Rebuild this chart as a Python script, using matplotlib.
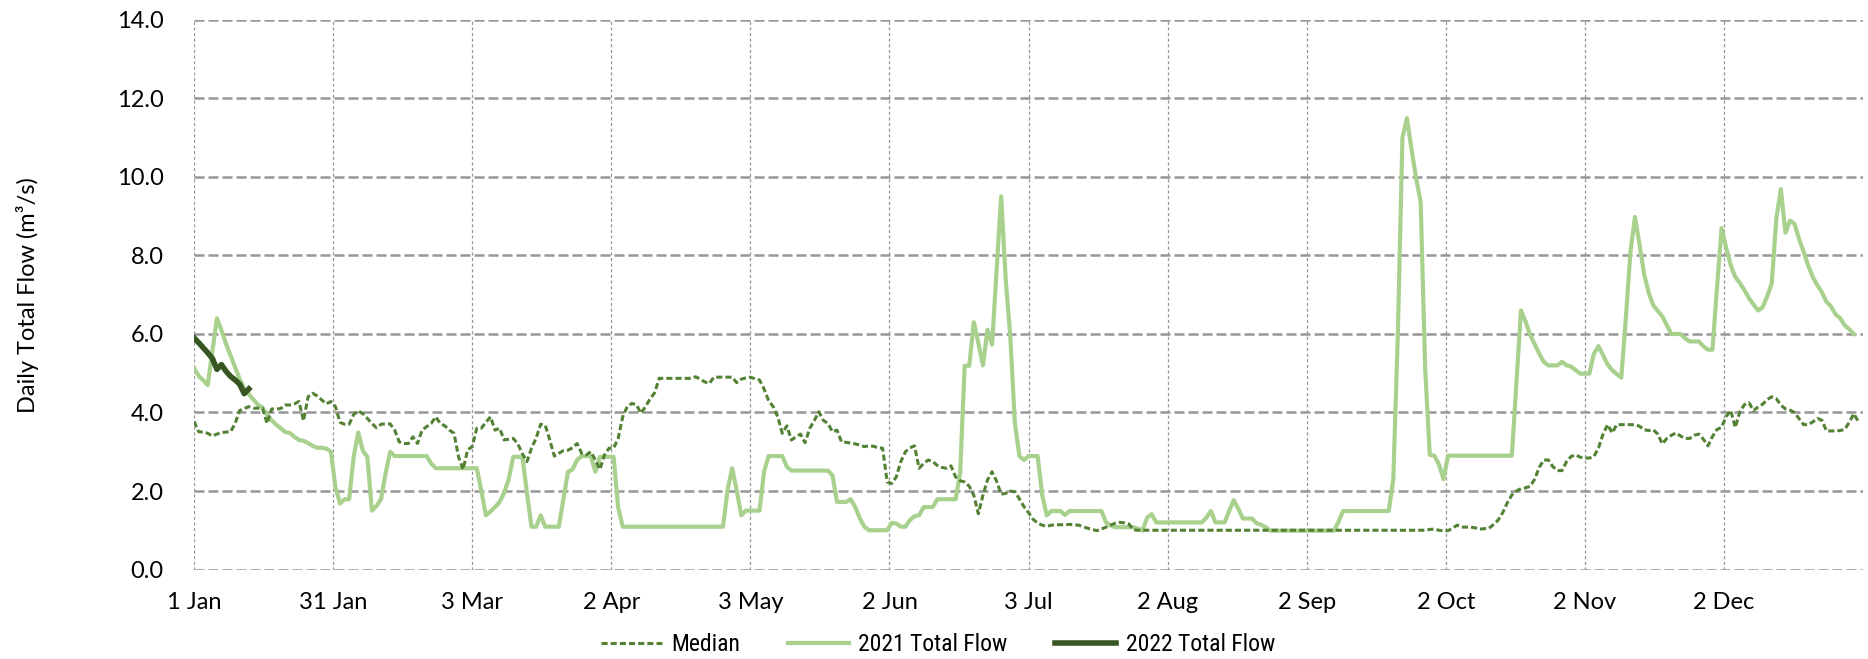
import numpy as np
import matplotlib
matplotlib.use("Agg")
import matplotlib.pyplot as plt
from matplotlib import font_manager

# ---------------- data ----------------
tick_labels = ["1 Jan", "31 Jan", "3 Mar", "2 Apr", "3 May", "2 Jun",
               "3 Jul", "2 Aug", "2 Sep", "2 Oct", "2 Nov", "2 Dec"]

median_flow = [
    3.77, 3.51, 3.50, 3.47, 3.40, 3.45, 3.49, 3.50, 3.51, 3.72,
    4.05, 4.10, 4.15, 4.11, 4.11, 4.11, 3.72, 4.09, 4.09, 4.10,
    4.19, 4.19, 4.22, 4.28, 3.79, 4.40, 4.49, 4.42, 4.32, 4.22,
    4.28, 4.15, 3.75, 3.70, 3.70, 3.95, 4.04, 3.97, 3.85, 3.72,
    3.61, 3.70, 3.71, 3.71, 3.55, 3.25, 3.21, 3.21, 3.38, 3.21,
    3.55, 3.64, 3.72, 3.89, 3.72, 3.66, 3.55, 3.47, 2.87, 2.55,
    3.05, 3.13, 3.60, 3.60, 3.75, 3.89, 3.55, 3.60, 3.30, 3.32,
    3.34, 3.20, 2.95, 2.75, 3.09, 3.34, 3.70, 3.68, 3.30, 2.89,
    2.96, 3.03, 3.04, 3.10, 3.21, 2.96, 2.92, 3.00, 2.79, 2.55,
    2.92, 3.09, 3.09, 3.34, 3.89, 4.15, 4.23, 4.20, 3.98, 4.15,
    4.35, 4.50, 4.87, 4.87, 4.87, 4.87, 4.87, 4.87, 4.87, 4.87,
    4.91, 4.85, 4.78, 4.74, 4.90, 4.90, 4.90, 4.90, 4.90, 4.76,
    4.85, 4.88, 4.90, 4.86, 4.83, 4.60, 4.30, 4.15, 3.89, 3.47,
    3.66, 3.30, 3.38, 3.45, 3.23, 3.59, 3.79, 4.02, 3.80, 3.72,
    3.51, 3.55, 3.25, 3.24, 3.22, 3.20, 3.17, 3.13, 3.15, 3.14,
    3.10, 3.09, 2.23, 2.19, 2.36, 2.75, 3.00, 3.10, 3.15, 2.58,
    2.70, 2.79, 2.75, 2.65, 2.60, 2.58, 2.64, 2.36, 2.26, 2.23,
    2.12, 1.89, 1.42, 1.89, 2.28, 2.49, 2.25, 1.92, 1.94, 2.00,
    1.98, 1.80, 1.60, 1.45, 1.28, 1.18, 1.13, 1.10, 1.13, 1.14,
    1.14, 1.14, 1.15, 1.14, 1.13, 1.09, 1.05, 1.02, 0.99, 1.03,
    1.08, 1.13, 1.18, 1.20, 1.19, 1.16, 1.01, 1.00, 1.00, 1.00,
    1.00, 1.00, 1.00, 1.00, 1.00, 1.00, 1.00, 1.00, 1.00, 1.00,
    1.00, 1.00, 1.00, 1.00, 1.00, 1.00, 1.00, 1.00, 1.00, 1.00,
    1.00, 1.00, 1.00, 1.00, 1.00, 1.00, 1.00, 1.00, 1.00, 1.00,
    1.00, 1.00, 1.00, 1.00, 1.00, 1.00, 1.00, 1.00, 1.00, 1.00,
    1.00, 1.00, 1.00, 1.00, 1.00, 1.00, 1.00, 1.00, 1.00, 1.00,
    1.00, 1.00, 1.00, 1.00, 1.00, 1.00, 1.00, 1.00, 1.00, 1.00,
    1.00, 1.02, 1.03, 1.00, 0.99, 0.99, 1.05, 1.13, 1.08, 1.08,
    1.08, 1.06, 1.03, 1.04, 1.05, 1.15, 1.26, 1.45, 1.70, 1.90,
    2.00, 2.06, 2.08, 2.12, 2.30, 2.60, 2.79, 2.79, 2.62, 2.52,
    2.52, 2.75, 2.88, 2.92, 2.86, 2.84, 2.84, 2.88, 3.10, 3.45,
    3.69, 3.48, 3.69, 3.69, 3.69, 3.69, 3.69, 3.65, 3.56, 3.54,
    3.56, 3.45, 3.20, 3.34, 3.42, 3.48, 3.40, 3.34, 3.34, 3.42,
    3.45, 3.32, 3.15, 3.39, 3.57, 3.62, 3.90, 4.05, 3.62, 4.02,
    4.20, 4.25, 4.05, 4.14, 4.21, 4.33, 4.40, 4.35, 4.19, 4.09,
    4.06, 4.00, 3.84, 3.69, 3.69, 3.76, 3.85, 3.80, 3.53, 3.53,
    3.53, 3.54, 3.57, 3.75, 3.97, 3.76,
]

flow_2021 = [
    5.13, 4.93, 4.82, 4.70, 5.55, 6.40, 6.10, 5.75, 5.45, 5.15,
    4.85, 4.62, 4.47, 4.33, 4.20, 4.12, 3.95, 3.80, 3.69, 3.60,
    3.50, 3.48, 3.38, 3.30, 3.28, 3.22, 3.15, 3.10, 3.10, 3.08,
    3.00, 2.10, 1.68, 1.79, 1.79, 2.87, 3.49, 3.03, 2.87, 1.50,
    1.62, 1.79, 2.45, 3.00, 2.89, 2.89, 2.89, 2.89, 2.89, 2.89,
    2.89, 2.89, 2.70, 2.58, 2.58, 2.58, 2.58, 2.58, 2.58, 2.58,
    2.58, 2.58, 2.58, 2.00, 1.38, 1.48, 1.59, 1.72, 1.95, 2.30,
    2.87, 2.87, 2.87, 1.95, 1.09, 1.09, 1.38, 1.09, 1.09, 1.09,
    1.09, 1.80, 2.49, 2.55, 2.79, 2.89, 2.89, 2.89, 2.49, 2.87,
    2.87, 2.87, 2.87, 1.59, 1.09, 1.09, 1.09, 1.09, 1.09, 1.09,
    1.09, 1.09, 1.09, 1.09, 1.09, 1.09, 1.09, 1.09, 1.09, 1.09,
    1.09, 1.09, 1.09, 1.09, 1.09, 1.09, 1.09, 2.02, 2.58, 2.02,
    1.38, 1.50, 1.50, 1.50, 1.50, 2.49, 2.89, 2.89, 2.89, 2.89,
    2.62, 2.52, 2.52, 2.52, 2.52, 2.52, 2.52, 2.52, 2.52, 2.52,
    2.40, 1.72, 1.72, 1.72, 1.79, 1.59, 1.30, 1.09, 1.00, 1.00,
    1.00, 1.00, 1.00, 1.19, 1.17, 1.09, 1.09, 1.26, 1.36, 1.38,
    1.59, 1.59, 1.59, 1.79, 1.79, 1.79, 1.79, 1.79, 2.45, 5.19,
    5.19, 6.30, 5.77, 5.20, 6.11, 5.73, 7.60, 9.51, 7.38, 5.94,
    3.74, 2.89, 2.79, 2.89, 2.89, 2.89, 1.90, 1.38, 1.49, 1.49,
    1.49, 1.39, 1.49, 1.49, 1.49, 1.49, 1.49, 1.49, 1.49, 1.49,
    1.20, 1.12, 1.08, 1.08, 1.08, 1.08, 1.08, 1.04, 0.99, 1.32,
    1.41, 1.20, 1.20, 1.20, 1.20, 1.20, 1.20, 1.20, 1.20, 1.20,
    1.20, 1.20, 1.32, 1.49, 1.20, 1.20, 1.20, 1.49, 1.77, 1.55,
    1.30, 1.30, 1.30, 1.18, 1.14, 1.08, 0.99, 0.99, 0.99, 0.99,
    0.99, 0.99, 0.99, 0.99, 0.99, 0.99, 0.99, 0.99, 0.99, 0.99,
    0.99, 1.22, 1.49, 1.49, 1.49, 1.49, 1.49, 1.49, 1.49, 1.49,
    1.49, 1.49, 1.49, 2.30, 6.03, 11.00, 11.50, 10.70, 9.97, 9.36,
    5.08, 2.92, 2.90, 2.68, 2.30, 2.90, 2.90, 2.90, 2.90, 2.90,
    2.90, 2.90, 2.90, 2.90, 2.90, 2.90, 2.90, 2.90, 2.90, 2.90,
    4.75, 6.60, 6.32, 5.98, 5.74, 5.50, 5.29, 5.20, 5.20, 5.20,
    5.29, 5.20, 5.17, 5.08, 4.99, 4.99, 4.99, 5.50, 5.69, 5.46,
    5.22, 5.08, 4.98, 4.89, 6.40, 8.09, 8.98, 8.28, 7.53, 7.06,
    6.73, 6.59, 6.45, 6.22, 6.00, 6.00, 6.00, 5.89, 5.81, 5.81,
    5.81, 5.69, 5.60, 5.60, 7.20, 8.70, 8.20, 7.75, 7.45, 7.30,
    7.12, 6.91, 6.75, 6.60, 6.68, 6.96, 7.29, 8.94, 9.69, 8.58,
    8.89, 8.80, 8.42, 8.09, 7.74, 7.45, 7.24, 7.06, 6.82, 6.70,
    6.50, 6.40, 6.22, 6.12, 6.00,
]

flow_2022 = [5.90, 5.78, 5.65, 5.52, 5.38, 5.10, 5.22, 5.05, 4.92, 4.83,
             4.72, 4.48, 4.60]

# ---------------- style ----------------
def pick(names):
    avail = {f.name for f in font_manager.fontManager.ttflist}
    for n in names:
        if n in avail:
            return n
    return "DejaVu Sans"

tick_font = pick(["Lato", "Open Sans", "DejaVu Sans"])
legend_font = pick(["Liberation Sans Narrow", "Roboto Condensed", "Liberation Sans"])

c_median = "#548235"
c_2021 = "#A9D18E"
c_2022 = "#375623"
c_grid = "#979797"

fig = plt.figure(figsize=(18.68, 6.59), dpi=100)
ax = fig.add_axes([0.1039, 0.1358, 0.8934, 0.8339])

x_med = np.arange(len(median_flow))
x_21 = np.arange(len(flow_2021))
x_22 = np.arange(len(flow_2022))

l1, = ax.plot(x_med, median_flow, color=c_median, lw=2.2, dashes=(2.0, 1.0),
              label="Median", zorder=3)
l2, = ax.plot(x_21, flow_2021, color=c_2021, lw=3.0, label="2021 Total Flow",
              zorder=2, solid_joinstyle="round")
l3, = ax.plot(x_22, flow_2022, color=c_2022, lw=4.0, label="2022 Total Flow",
              zorder=4, solid_joinstyle="round")

ax.set_xlim(0, 366)
ax.set_ylim(0, 14)
ax.set_xticks(np.arange(12) * 30.5)
ax.set_xticklabels(tick_labels)
ax.set_yticks(np.arange(0, 15, 2))
ax.set_yticklabels([f"{v:.1f}" for v in np.arange(0, 15, 2)])

for s in ax.spines.values():
    s.set_visible(False)

ax.tick_params(axis="both", length=0, labelsize=17, colors="black")
ax.tick_params(axis="y", pad=22)
ax.tick_params(axis="x", pad=16)
for lab in ax.get_xticklabels() + ax.get_yticklabels():
    lab.set_fontfamily(tick_font)

for yv in np.arange(0, 15, 2):
    ax.axhline(yv, color=c_grid, lw=1.8, dashes=(4.0, 1.6), zorder=1)
for xv in np.arange(12) * 30.5:
    ax.axvline(xv, color=c_grid, lw=0.9, dashes=(2.5, 2.0), zorder=1)

ax.set_ylabel("Daily Total Flow (m³/s)", fontsize=17,
              family=[tick_font, "DejaVu Sans"], labelpad=56)

fig.legend(handles=[l1, l2, l3], loc="center", bbox_to_anchor=(0.502, 0.022),
           ncol=3, frameon=False, handlelength=2.6, columnspacing=2.0,
           handletextpad=0.4, prop={"family": legend_font, "size": 17})

fig.savefig("out.png", dpi=100)
